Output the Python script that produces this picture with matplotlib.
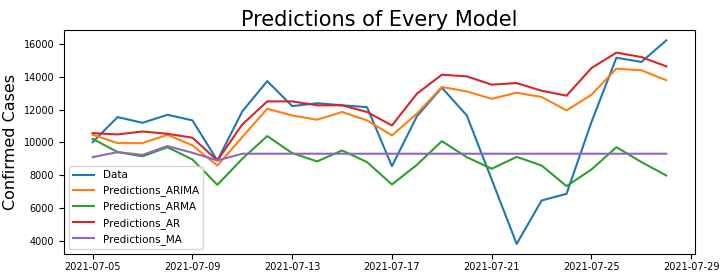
import pandas as pd
import matplotlib
matplotlib.use("Agg")
import matplotlib.pyplot as plt
import matplotlib.dates as mdates

dates = pd.date_range("2021-07-05", "2021-07-28", freq="D")

data = [10020, 11550, 11200, 11690, 11350, 8900, 11900, 13750, 12220, 12400, 12270, 12160,
        8550, 11600, 13350, 11650, 7730, 3800, 6450, 6860, 11250, 15180, 14920, 16240]
pred_arima = [10470, 9960, 9960, 10470, 9820, 8590, 10330, 12060, 11650, 11390, 11860, 11350,
              10430, 11760, 13390, 13120, 12670, 13040, 12780, 11960, 12920, 14510, 14410, 13800]
pred_arma = [10220, 9410, 9150, 9710, 8960, 7410, 9000, 10390, 9350, 8840, 9510, 8800,
             7430, 8630, 10080, 9100, 8390, 9120, 8590, 7330, 8350, 9710, 8800, 7980]
pred_ar = [10570, 10490, 10670, 10530, 10290, 8900, 11100, 12510, 12510, 12270, 12270, 11860,
           11040, 12980, 14140, 14040, 13530, 13630, 13160, 12860, 14550, 15490, 15220, 14650]
pred_ma = [9100, 9410, 9240, 9780, 9370, 8900, 9310, 9310, 9310, 9310, 9310, 9310,
           9310, 9310, 9310, 9310, 9310, 9310, 9310, 9310, 9310, 9310, 9310, 9310]

fig = plt.figure(figsize=(7.22, 2.72), dpi=100)
ax = fig.add_axes([0.0886, 0.066, 0.874, 0.823])

ax.plot(dates, data, label="Data")
ax.plot(dates, pred_arima, label="Predictions_ARIMA")
ax.plot(dates, pred_arma, label="Predictions_ARMA")
ax.plot(dates, pred_ar, label="Predictions_AR")
ax.plot(dates, pred_ma, label="Predictions_MA")

ax.xaxis.set_major_locator(mdates.DayLocator(bymonthday=range(1, 32, 4)))
ax.xaxis.set_major_formatter(mdates.DateFormatter("%Y-%m-%d"))
ax.tick_params(labelsize=7)
ax.tick_params(axis="x", pad=2)
ax.set_yticks(range(4000, 16001, 2000))

ax.set_title("Predictions of Every Model", fontsize=15, pad=2)
ax.set_ylabel("Confirmed Cases", fontsize=11.5)
ax.legend(loc="lower left", fontsize=7.5)

fig.savefig("out.png", dpi=100)
